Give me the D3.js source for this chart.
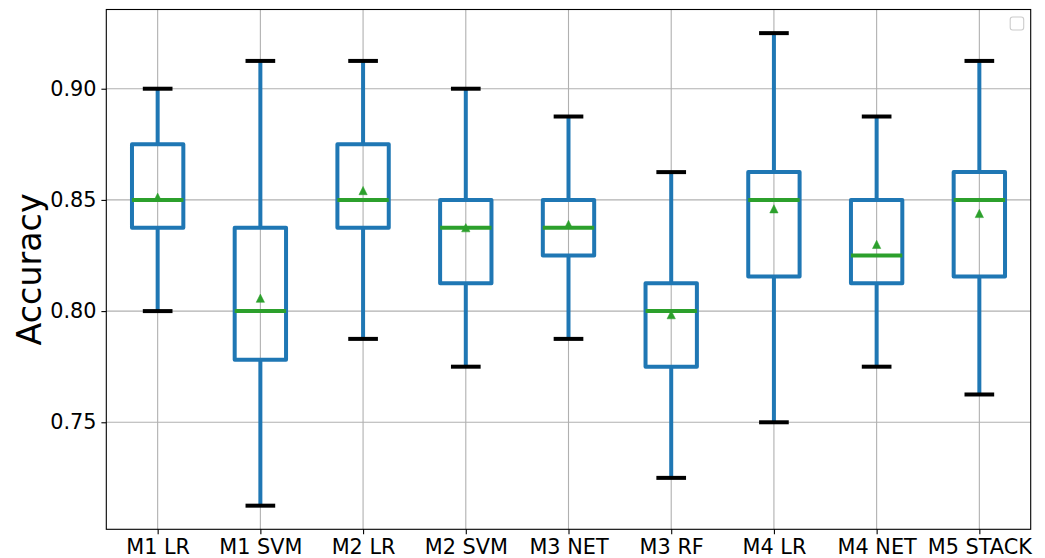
<!DOCTYPE html>
<html>
<head>
<meta charset="utf-8">
<script src="https://cdn.jsdelivr.net/npm/d3@7"></script>
<style>
  html, body { margin: 0; padding: 0; background: #ffffff; }
  svg { display: block; font-family: "DejaVu Sans", sans-serif; }
</style>
</head>
<body>
<svg id="chart" width="1045" height="558"></svg>
<script>
const categories = ["M1 LR", "M1 SVM", "M2 LR", "M2 SVM", "M3 NET", "M3 RF", "M4 LR", "M4 NET", "M5 STACK"];
const whiskerLow  = [0.8000, 0.7125, 0.7875, 0.7750, 0.7875, 0.7250, 0.7500, 0.7750, 0.7625];
const q1Values    = [0.8375, 0.7781, 0.8375, 0.8125, 0.8250, 0.7750, 0.8156, 0.8125, 0.8156];
const medians     = [0.8500, 0.8000, 0.8500, 0.8375, 0.8375, 0.8000, 0.8500, 0.8250, 0.8500];
const q3Values    = [0.8750, 0.8375, 0.8750, 0.8500, 0.8500, 0.8125, 0.8625, 0.8500, 0.8625];
const whiskerHigh = [0.9000, 0.9125, 0.9125, 0.9000, 0.8875, 0.8625, 0.9250, 0.8875, 0.9125];
const means       = [0.8512, 0.8058, 0.8542, 0.8375, 0.8390, 0.7984, 0.8460, 0.8300, 0.8439];
const yTickValues = [0.75, 0.80, 0.85, 0.90];
const yLabel = "Accuracy";

const W = 1045, H = 558;
const margin = { top: 9.5, right: 14.3, bottom: 28.7, left: 106.3 };
const iw = W - margin.left - margin.right;
const ih = H - margin.top - margin.bottom;

const svg = d3.select("#chart");
const g = svg.append("g").attr("transform", `translate(${margin.left},${margin.top})`);

const x = d3.scalePoint().domain(categories).range([0, iw]).padding(0.5);
const step = x.step();
const y = d3.scaleLinear().domain([0.701875, 0.935625]).range([ih, 0]);

const gridColor = "#b0b0b0";
// grid
g.append("g").selectAll("line.gy").data(yTickValues).join("line")
  .attr("x1", 0).attr("x2", iw)
  .attr("y1", d => y(d)).attr("y2", d => y(d))
  .attr("stroke", gridColor).attr("stroke-width", 1.1);
g.append("g").selectAll("line.gx").data(categories).join("line")
  .attr("x1", d => x(d)).attr("x2", d => x(d))
  .attr("y1", 0).attr("y2", ih)
  .attr("stroke", gridColor).attr("stroke-width", 1.1);

const data = categories.map((c, i) => ({
  c, lo: whiskerLow[i], q1: q1Values[i], med: medians[i], q3: q3Values[i], hi: whiskerHigh[i], mean: means[i]
}));

const blue = "#1f77b4", green = "#2ca02c";
const lw = 4;
const boxW = step * 0.5;
const capW = step * 0.25;

const boxes = g.append("g").selectAll("g.box").data(data).join("g");
// whiskers
boxes.append("line")
  .attr("x1", d => x(d.c)).attr("x2", d => x(d.c))
  .attr("y1", d => y(d.q3)).attr("y2", d => y(d.hi))
  .attr("stroke", blue).attr("stroke-width", lw);
boxes.append("line")
  .attr("x1", d => x(d.c)).attr("x2", d => x(d.c))
  .attr("y1", d => y(d.q1)).attr("y2", d => y(d.lo))
  .attr("stroke", blue).attr("stroke-width", lw);
// caps
boxes.append("line")
  .attr("x1", d => x(d.c) - capW / 2).attr("x2", d => x(d.c) + capW / 2)
  .attr("y1", d => y(d.hi)).attr("y2", d => y(d.hi))
  .attr("stroke", "#000").attr("stroke-width", lw).attr("stroke-linecap", "square");
boxes.append("line")
  .attr("x1", d => x(d.c) - capW / 2).attr("x2", d => x(d.c) + capW / 2)
  .attr("y1", d => y(d.lo)).attr("y2", d => y(d.lo))
  .attr("stroke", "#000").attr("stroke-width", lw).attr("stroke-linecap", "square");
// box
boxes.append("rect")
  .attr("x", d => x(d.c) - boxW / 2).attr("width", boxW)
  .attr("y", d => y(d.q3)).attr("height", d => y(d.q1) - y(d.q3))
  .attr("fill", "none").attr("stroke", blue).attr("stroke-width", lw)
  .attr("stroke-linejoin", "round");
// median
boxes.append("line")
  .attr("x1", d => x(d.c) - boxW / 2).attr("x2", d => x(d.c) + boxW / 2)
  .attr("y1", d => y(d.med)).attr("y2", d => y(d.med))
  .attr("stroke", green).attr("stroke-width", lw);
// mean markers
const ms = 4.15;
boxes.append("path")
  .attr("transform", d => `translate(${x(d.c)},${y(d.mean)})`)
  .attr("d", `M0,${-ms}L${ms},${ms}L${-ms},${ms}Z`)
  .attr("fill", green).attr("stroke", green).attr("stroke-width", 0.5);

// axes
const yAxis = d3.axisLeft(y).tickValues(yTickValues).tickFormat(d3.format(".2f"))
  .tickSizeInner(4.9).tickSizeOuter(0).tickPadding(4.9);
const yg = g.append("g").call(yAxis);
yg.select(".domain").remove();
yg.selectAll(".tick line").attr("stroke", "#000").attr("stroke-width", 1.1);
yg.selectAll(".tick text").attr("font-size", "20.8px").attr("fill", "#000")
  .attr("font-family", "DejaVu Sans, sans-serif");

const xAxis = d3.axisBottom(x).tickSizeInner(4.9).tickSizeOuter(0).tickPadding(4.9);
const xg = g.append("g").attr("transform", `translate(0,${ih})`).call(xAxis);
xg.select(".domain").remove();
xg.selectAll(".tick line").attr("stroke", "#000").attr("stroke-width", 1.1);
xg.selectAll(".tick text").attr("font-size", "20.8px").attr("fill", "#000")
  .attr("font-family", "DejaVu Sans, sans-serif");

// frame
g.append("rect").attr("x", 0).attr("y", 0).attr("width", iw).attr("height", ih)
  .attr("fill", "none").attr("stroke", "#000").attr("stroke-width", 1.1);

// y label
svg.append("text")
  .attr("transform", `translate(41,${margin.top + ih / 2}) rotate(-90)`)
  .attr("text-anchor", "middle")
  .attr("font-size", "33.3px").attr("fill", "#000")
  .text(yLabel);

// empty legend frame
g.append("rect")
  .attr("x", iw - 20.5).attr("y", 7.5).attr("width", 13.5).attr("height", 13)
  .attr("rx", 2.5).attr("ry", 2.5)
  .attr("fill", "#ffffff").attr("fill-opacity", 0.8)
  .attr("stroke", "#cccccc").attr("stroke-width", 1.1);
</script>
</body>
</html>
